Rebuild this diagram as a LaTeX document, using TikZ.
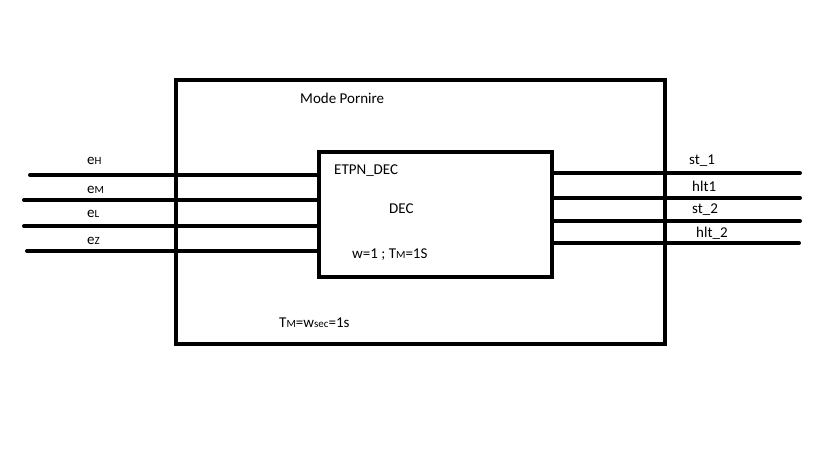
\documentclass[tikz,border=0pt]{standalone}
\usepackage{fontspec}
\setmainfont{Carlito}
\begin{document}
\begin{tikzpicture}[x=1pt,y=-1pt,
  box/.style={draw=black,line width=4pt,fill=none,inner sep=0pt,outer sep=0pt},
  wire/.style={line width=4pt,line cap=round},
  lbl/.style={anchor=west,inner sep=0pt,font=\fontsize{15}{17}\selectfont}]
\useasboundingbox (0,0) rectangle (819,460);
\newcommand{\sm}[1]{{\fontsize{11}{12}\selectfont #1}}
\node[box,minimum width=489pt,minimum height=264pt] (outer) at (420.5,212) {};
\node[box,minimum width=233pt,minimum height=125pt] (inner) at (435.5,214.5) {};
% left free ends
\coordinate (l1) at (30,175);
\coordinate (l2) at (24,200);
\coordinate (l3) at (24,226);
\coordinate (l4) at (27,251);
% right free ends
\coordinate (r1) at (800,173);
\coordinate (r2) at (800,198);
\coordinate (r3) at (800,221);
\coordinate (r4) at (799,243);
\draw[wire] (l1) -- (inner.west |- l1);
\draw[wire] (l2) -- (inner.west |- l2);
\draw[wire] (l3) -- (inner.west |- l3);
\draw[wire] (l4) -- (inner.west |- l4);
\draw[wire] (inner.east |- r1) -- (r1);
\draw[wire] (inner.east |- r2) -- (r2);
\draw[wire] (inner.east |- r3) -- (r3);
\draw[wire] (inner.east |- r4) -- (r4);
% labels
\node[lbl] (mode) at (300,98) {Mode Pornire};
\node[lbl] (etpn) at (334,171) {ETPN\_DEC};
\node[lbl] (dec) at (389,209) {DEC};
\node[lbl] (wtm) at (352,255) {w=1 ; T\sm{M}=1S};
\node[lbl] (tmw) at (279,323) {T\sm{M}=w\sm{sec}=1s};
\node[lbl] (eh) at (87,161) {e\sm{H}};
\node[lbl] (em) at (87,190) {e\sm{M}};
\node[lbl] (el) at (87,214) {e\sm{L}};
\node[lbl] (ez) at (87,241) {e\sm{Z}};
\node[lbl] (st1) at (689,161) {st\_1};
\node[lbl] (hlt1) at (692,186) {hlt1};
\node[lbl] (st2) at (692,210) {st\_2};
\node[lbl] (hlt2) at (696,233) {hlt\_2};
\end{tikzpicture}
\end{document}
